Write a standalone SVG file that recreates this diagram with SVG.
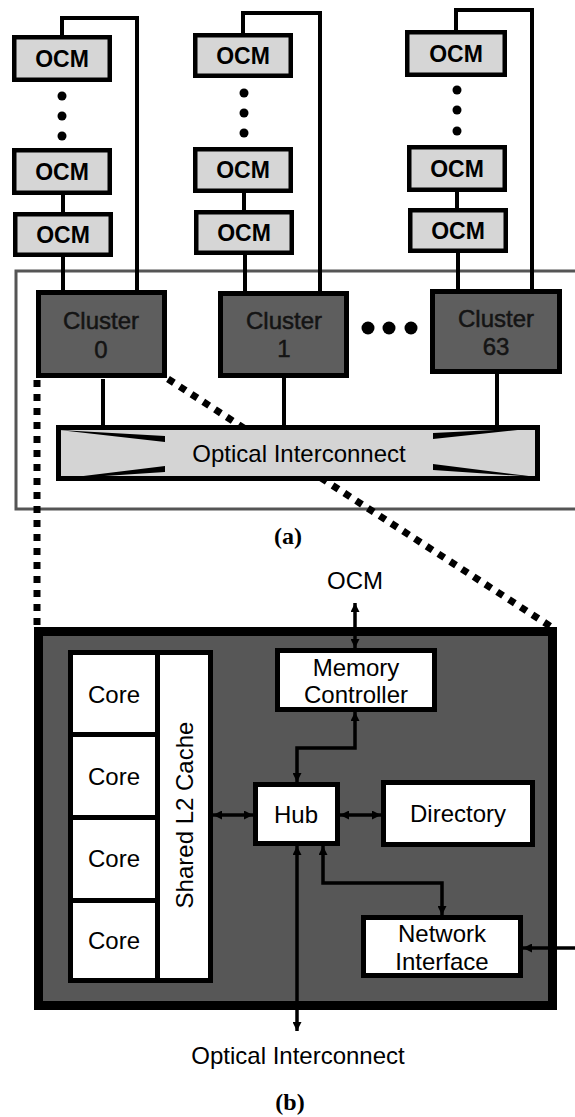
<svg xmlns="http://www.w3.org/2000/svg" width="575" height="1117" viewBox="0 0 575 1117">
  <style>
    .ocm { fill: #d6d6d6; stroke: #000; stroke-width: 4.5; }
    .clu { fill: #5e5e5e; stroke: #000; stroke-width: 5; }
    .wbox { fill: #fff; stroke: #000; stroke-width: 5; }
    .wire { fill: none; stroke: #000; stroke-width: 4; }
    .link { fill: none; stroke: #000; stroke-width: 3.5; }
    .dots { fill: none; stroke: #000; stroke-width: 7; stroke-dasharray: 7 7; }
    .t { font-family: "Liberation Sans", Arial, sans-serif; text-anchor: middle; fill: #000; }
    .ocmt { font-size: 23px; font-weight: bold; }
    .clut { font-size: 24px; fill: #141414; stroke: #141414; stroke-width: 0.5; }
    .lbl { font-size: 24px; }
    .cap { font-family: "Liberation Serif", "Times New Roman", serif; font-weight: bold; font-size: 24px; text-anchor: middle; }
  </style>
  <defs>
    <marker id="ah" viewBox="0 0 10 10" refX="10" refY="5" markerWidth="10" markerHeight="9" markerUnits="userSpaceOnUse" orient="auto-start-reverse">
      <path d="M0,0 L10,5 L0,10 z" fill="#000"/>
    </marker>
  </defs>

  <rect width="575" height="1117" fill="#fff"/>

  <!-- (a) system boundary -->
  <rect id="system" x="16" y="271" width="570" height="238" fill="none" stroke="#555" stroke-width="3"/>

  <!-- zoom-out guide lines from cluster 0 to its detail view -->
  <g id="guides">
    <line class="dots" x1="37" y1="380" x2="37" y2="627"/>
    <line class="dots" x1="168" y1="379" x2="553" y2="628"/>
  </g>

  <!-- (b) cluster detail frame -->
  <g id="cluster-detail">
    <rect x="38.5" y="631.5" width="514" height="374" fill="#575757" stroke="#000" stroke-width="9"/>
  </g>

  <!-- memory wiring, cluster links and on-chip links -->
  <g id="connectors">
    <path class="wire" d="M62,35 V18 H137 V290"/>
    <path class="wire" d="M63,195 V212"/>
    <path class="wire" d="M63,257 V290"/>
    <path class="wire" d="M243,33 V13 H320 V291"/>
    <path class="wire" d="M244,193 V210"/>
    <path class="wire" d="M245,255 V291"/>
    <path class="wire" d="M456,30 V10 H532 V289"/>
    <path class="wire" d="M457,192 V208"/>
    <path class="wire" d="M458,253 V289"/>
    <path class="wire" d="M103,379 V426"/>
    <path class="wire" d="M284,377 V426"/>
    <path class="wire" d="M497,374 V426"/>

    <path class="link" d="M355,603 V648" marker-start="url(#ah)" marker-end="url(#ah)"/>
    <path class="link" d="M355,712 V748 H297 V782" marker-start="url(#ah)" marker-end="url(#ah)"/>
    <path class="link" d="M213,815 H253" marker-start="url(#ah)" marker-end="url(#ah)"/>
    <path class="link" d="M340,815 H381" marker-start="url(#ah)" marker-end="url(#ah)"/>
    <path class="link" d="M297,846 V1031" marker-start="url(#ah)" marker-end="url(#ah)"/>
    <path class="link" d="M323,846 V883 H442 V915" marker-start="url(#ah)" marker-end="url(#ah)"/>
    <path class="link" d="M575,948 H523" marker-end="url(#ah)"/>
  </g>

  <!-- off-chip memory columns -->
  <g id="ocm-col0">
    <rect class="ocm" x="14.25" y="37.25" width="95.5" height="42.5"/>
    <text class="t ocmt" x="62" y="67">OCM</text>
    <circle cx="62" cy="96" r="4.5"/><circle cx="62" cy="116" r="4.5"/><circle cx="62" cy="136" r="4.5"/>
    <rect class="ocm" x="14.25" y="150.25" width="95.5" height="42.5"/>
    <text class="t ocmt" x="62" y="180">OCM</text>
    <rect class="ocm" x="15.25" y="214.25" width="95.5" height="40.5"/>
    <text class="t ocmt" x="63" y="243">OCM</text>
  </g>
  <g id="ocm-col1">
    <rect class="ocm" x="195.25" y="35.25" width="95.5" height="40.5"/>
    <text class="t ocmt" x="243" y="64">OCM</text>
    <circle cx="244" cy="93" r="4.5"/><circle cx="244" cy="113" r="4.5"/><circle cx="244" cy="133" r="4.5"/>
    <rect class="ocm" x="195.25" y="149.25" width="95.5" height="41.5"/>
    <text class="t ocmt" x="243" y="178">OCM</text>
    <rect class="ocm" x="196.25" y="212.25" width="95.5" height="40.5"/>
    <text class="t ocmt" x="244" y="241">OCM</text>
  </g>
  <g id="ocm-col63">
    <rect class="ocm" x="407.25" y="32.25" width="97.5" height="42.5"/>
    <text class="t ocmt" x="456" y="62">OCM</text>
    <circle cx="457" cy="90" r="4.5"/><circle cx="457" cy="110" r="4.5"/><circle cx="457" cy="131" r="4.5"/>
    <rect class="ocm" x="409.25" y="147.25" width="95.5" height="42.5"/>
    <text class="t ocmt" x="457" y="177">OCM</text>
    <rect class="ocm" x="410.25" y="210.25" width="95.5" height="40.5"/>
    <text class="t ocmt" x="458" y="239">OCM</text>
  </g>

  <!-- clusters -->
  <g id="cluster0">
    <rect class="clu" x="38.5" y="292.5" width="126" height="83" stroke-width="7"/>
    <text class="t clut" x="101" y="329">Cluster</text>
    <text class="t clut" x="101" y="358">0</text>
  </g>
  <g id="cluster1">
    <rect class="clu" x="220.5" y="293.5" width="126" height="82"/>
    <text class="t clut" x="284" y="329">Cluster</text>
    <text class="t clut" x="284" y="357">1</text>
  </g>
  <g id="ellipsis">
    <circle cx="368" cy="328" r="6.5"/><circle cx="389" cy="328" r="6.5"/><circle cx="411" cy="328" r="6.5"/>
  </g>
  <g id="cluster63">
    <rect class="clu" x="432.5" y="291.5" width="127" height="80"/>
    <text class="t clut" x="496" y="327">Cluster</text>
    <text class="t clut" x="496" y="355">63</text>
  </g>

  <!-- optical interconnect bus -->
  <g id="optical-interconnect">
    <rect x="58.5" y="427.5" width="479" height="51" fill="#d4d4d4" stroke="#000" stroke-width="5"/>
    <polygon points="59,430 165,436 165,442"/>
    <polygon points="59,479 165,466 165,472"/>
    <polygon points="537,428 433,433 433,439"/>
    <polygon points="537,477 433,464 433,470"/>
    <text class="t" x="299" y="462" font-size="24">Optical Interconnect</text>
  </g>

  <text class="cap" x="288" y="544">(a)</text>

  <text class="t lbl" x="355" y="589">OCM</text>

  <g id="cores-l2">
    <rect class="wbox" x="70.5" y="652.5" width="140" height="328"/>
    <line x1="157.5" y1="652" x2="157.5" y2="981" stroke="#000" stroke-width="5"/>
    <line x1="70" y1="734.5" x2="158" y2="734.5" stroke="#000" stroke-width="5"/>
    <line x1="70" y1="817.5" x2="158" y2="817.5" stroke="#000" stroke-width="5"/>
    <line x1="70" y1="900.5" x2="158" y2="900.5" stroke="#000" stroke-width="5"/>
    <text class="t lbl" x="114" y="703">Core</text>
    <text class="t lbl" x="114" y="785">Core</text>
    <text class="t lbl" x="114" y="867">Core</text>
    <text class="t lbl" x="114" y="949">Core</text>
    <text class="t lbl" transform="translate(193,815) rotate(-90)">Shared L2 Cache</text>
  </g>
  <g id="memory-controller">
    <rect class="wbox" x="277.5" y="650.5" width="157" height="59"/>
    <text class="t lbl" x="356" y="676">Memory</text>
    <text class="t lbl" x="356" y="703">Controller</text>
  </g>
  <g id="hub">
    <rect class="wbox" x="255.5" y="784.5" width="82" height="59"/>
    <text class="t lbl" x="296" y="823">Hub</text>
  </g>
  <g id="directory">
    <rect class="wbox" x="383.5" y="782.5" width="149" height="62"/>
    <text class="t lbl" x="458" y="822">Directory</text>
  </g>
  <g id="network-interface">
    <rect class="wbox" x="363.5" y="917.5" width="157" height="58"/>
    <text class="t lbl" x="442" y="942">Network</text>
    <text class="t lbl" x="442" y="970">Interface</text>
  </g>

  <text class="t lbl" x="298" y="1064">Optical Interconnect</text>
  <text class="cap" x="290" y="1110">(b)</text>
</svg>
